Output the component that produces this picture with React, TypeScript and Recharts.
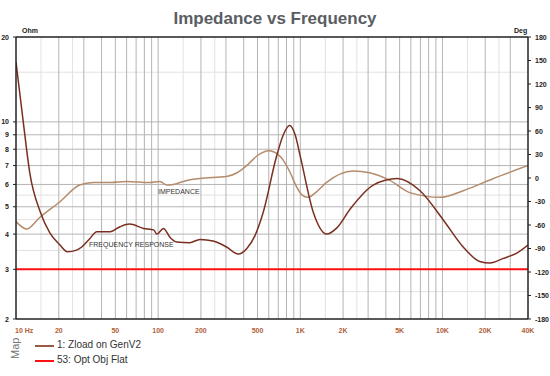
import { LineChart, Line, XAxis, YAxis, ReferenceLine } from 'recharts'

// impedance curve (light brown)
const impFreq = [10, 11.9, 14.8, 20.4, 28, 35, 46, 60, 87, 103, 115, 128, 159, 197, 303, 359, 420, 500, 600, 700, 760, 850, 940, 1030, 1130, 1300, 1530, 2350, 3080, 4270, 5980, 9660, 14000, 22900, 40000]
const impOhm = [4.43, 4.17, 4.6, 5.21, 5.97, 6.1, 6.1, 6.15, 6.1, 6.15, 5.97, 6.0, 6.2, 6.3, 6.4, 6.6, 7.0, 7.6, 7.9, 7.65, 7.3, 6.6, 5.89, 5.5, 5.4, 5.65, 6.1, 6.7, 6.6, 6.2, 5.6, 5.4, 5.7, 6.3, 7.0]

// frequency response curve (dark brown)
const frFreq = [10, 11.3, 12.5, 14.8, 17.3, 20.4, 23, 26.7, 29, 33, 37, 46, 54, 63, 79, 93, 98, 109, 121, 135, 167, 197, 244, 303, 366, 421, 480, 546, 681, 760, 841, 920, 1000, 1241, 1534, 1800, 2265, 3260, 4800, 6960, 10140, 14000, 18300, 21600, 26800, 33100, 40000]
const frOhm = [16.3, 9.8, 6.6, 4.8, 4.04, 3.66, 3.46, 3.51, 3.6, 3.85, 4.08, 4.08, 4.25, 4.34, 4.19, 4.14, 4.0, 4.19, 3.9, 3.75, 3.73, 3.83, 3.78, 3.6, 3.4, 3.56, 3.95, 4.74, 7.55, 9.0, 9.7, 9.0, 7.55, 4.74, 4.0, 4.2, 4.94, 5.97, 6.3, 5.7, 4.49, 3.6, 3.2, 3.16, 3.28, 3.42, 3.66]

// flat target
const flatFreq = [10, 40000]
const flatOhm = [3, 3]

const xTicks = [10, 20, 50, 100, 200, 500, 1000, 2000, 5000, 10000, 20000, 40000]
const xLabels = ['10 Hz', '20', '50', '100', '200', '500', '1K', '2K', '5K', '10K', '20K', '40K']
const ohmTicks = [2, 3, 4, 5, 6, 7, 8, 9, 10, 20]
const degTicks = [-180, -150, -120, -90, -60, -30, 0, 30, 60, 90, 120, 150, 180]
const ohmMinor = [2.5, 3.5, 4.5, 5.5, 15]
const freqMinor = [15, 25, 150, 250, 1500, 2500, 15000, 25000]

const freqMajor: number[] = []
for (const d of [10, 100, 1000, 10000]) {
  for (let m = 1; m <= 9; m++) {
    const f = d * m
    if (f > 10 && f < 40000) freqMajor.push(f)
  }
}

const impData = impFreq.map((f, i) => ({ f, v: impOhm[i] }))
const frData = frFreq.map((f, i) => ({ f, v: frOhm[i] }))
const flatData = flatFreq.map((f, i) => ({ f, v: flatOhm[i] }))

const font = 'Liberation Sans, Arial, sans-serif'
const LIGHT = '#b48c6c'
const DARK = '#7b2f20'

const XTick = ({ x, y, payload }: any) => {
  const i = xTicks.indexOf(payload.value)
  const first = payload.value === 10
  return (
    <text x={first ? x - 1 : x} y={y + 6} textAnchor={first ? 'start' : 'middle'} fontSize={7} fontWeight="bold" fill="#b0603a" fontFamily={font}>
      {xLabels[i]}
    </text>
  )
}

const LeftTick = ({ x, y, payload }: any) => (
  <text x={x - 2} y={y + 2.5} textAnchor="end" fontSize={7} fontWeight="bold" fill="#222" fontFamily={font}>
    {payload.value}
  </text>
)

const RightTick = ({ x, y, payload }: any) => (
  <text x={x + 2} y={y + 2.5} textAnchor="start" fontSize={7} fontWeight="bold" fill="#222" fontFamily={font}>
    {payload.value}
  </text>
)

const abs = (extra: any) => ({ position: 'absolute' as const, fontFamily: font, whiteSpace: 'nowrap' as const, ...extra })

export default function App() {
  return (
    <div style={{ position: 'absolute', left: 0, top: 0, width: 550, height: 376, background: '#fff' }}>
      <LineChart width={550} height={376} margin={{ top: 37, right: 0, left: 0, bottom: 37 }}>
        <XAxis
          dataKey="f"
          type="number"
          scale="log"
          domain={[10, 40000]}
          ticks={xTicks}
          interval={0}
          allowDataOverflow
          height={20}
          tick={<XTick />}
          tickLine={false}
          axisLine={{ stroke: '#222', strokeWidth: 1.5 }}
        />
        <YAxis
          yAxisId="ohm"
          type="number"
          scale="log"
          domain={[2, 20]}
          ticks={ohmTicks}
          interval={0}
          allowDataOverflow
          width={16}
          tick={<LeftTick />}
          tickSize={3}
          tickLine={{ stroke: '#222' }}
          axisLine={{ stroke: '#222', strokeWidth: 1.5 }}
        />
        <YAxis
          yAxisId="deg"
          orientation="right"
          type="number"
          domain={[-180, 180]}
          ticks={degTicks}
          interval={0}
          allowDataOverflow
          width={22}
          tick={<RightTick />}
          tickSize={3}
          tickLine={{ stroke: '#222' }}
          axisLine={{ stroke: '#222', strokeWidth: 1.5 }}
        />
        {freqMinor.map((f) => (
          <ReferenceLine key={'fm' + f} yAxisId="ohm" x={f} stroke="#e2e2e2" strokeWidth={1} />
        ))}
        {ohmMinor.map((v) => (
          <ReferenceLine key={'om' + v} yAxisId="ohm" y={v} stroke="#e2e2e2" strokeWidth={1} />
        ))}
        {freqMajor.map((f) => (
          <ReferenceLine key={'fM' + f} yAxisId="ohm" x={f} stroke="#b4b4b4" strokeWidth={1} />
        ))}
        {ohmTicks.slice(1, -1).map((v) => (
          <ReferenceLine key={'oM' + v} yAxisId="ohm" y={v} stroke="#b4b4b4" strokeWidth={1} />
        ))}
        <ReferenceLine yAxisId="ohm" y={20} stroke="#222" strokeWidth={1.5} />
        <Line yAxisId="ohm" data={flatData} dataKey="v" type="linear" stroke="#ff1010" strokeWidth={2} dot={false} isAnimationActive={false} name="53: Opt Obj Flat" />
        <Line yAxisId="ohm" data={impData} dataKey="v" type="monotone" stroke={LIGHT} strokeWidth={1.5} dot={false} isAnimationActive={false} name="IMPEDANCE" />
        <Line yAxisId="ohm" data={frData} dataKey="v" type="monotone" stroke={DARK} strokeWidth={1.5} dot={false} isAnimationActive={false} name="1: Zload on GenV2" />
      </LineChart>

      <div style={abs({ left: 0, width: 550, top: 9, textAlign: 'center', fontSize: 17, fontWeight: 'bold', color: '#5a5e63' })}>
        Impedance vs Frequency
      </div>
      <div style={abs({ left: 22, top: 27, fontSize: 7, fontWeight: 'bold', color: '#222' })}>Ohm</div>
      <div style={abs({ left: 514, top: 27, fontSize: 7, fontWeight: 'bold', color: '#222' })}>Deg</div>
      <div style={abs({ left: 158, top: 188, fontSize: 7, color: '#333' })}>IMPEDANCE</div>
      <div style={abs({ left: 89, top: 241, fontSize: 7, color: '#333' })}>FREQUENCY RESPONSE</div>

      <div style={abs({ left: 9, top: 359, fontSize: 11, lineHeight: '13px', color: '#777', transform: 'rotate(-90deg)', transformOrigin: '0 0' })}>Map</div>
      <div style={abs({ left: 35, top: 345, width: 19, height: 2, background: '#9a5a44' })} />
      <div style={abs({ left: 57, top: 339, fontSize: 10, color: '#333' })}>1: Zload on GenV2</div>
      <div style={abs({ left: 35, top: 360, width: 19, height: 2, background: '#ff1010' })} />
      <div style={abs({ left: 57, top: 354, fontSize: 10, color: '#333' })}>53: Opt Obj Flat</div>
    </div>
  )
}
